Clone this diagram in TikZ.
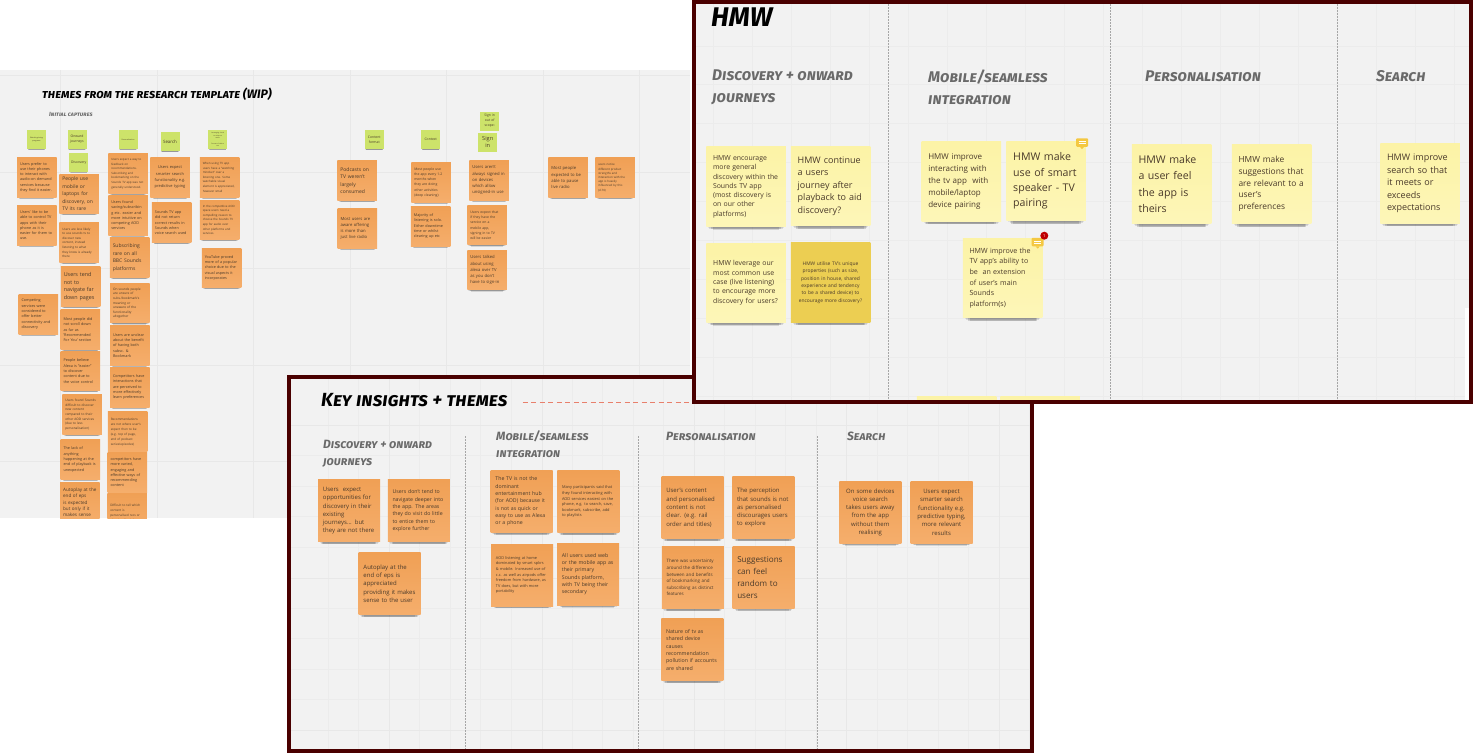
\documentclass[tikz,border=0pt]{standalone}
\usepackage{fontspec}
\setmainfont{Open Sans}
\newfontfamily\markerfont[Letters=SmallCaps]{Fira Sans}
\usepackage{tikz}
\usetikzlibrary{calc, shadows}
\definecolor{boardgray}{HTML}{F2F2F2}
\definecolor{gridmajor}{HTML}{E8E8E8}
\definecolor{gridminor}{HTML}{ECECEC}
\definecolor{framered}{HTML}{4A0000}
\definecolor{orangetop}{HTML}{F0A055}
\definecolor{orangebot}{HTML}{F5AE6C}
\definecolor{yellowtop}{HTML}{FCF3A6}
\definecolor{yellowbot}{HTML}{FDF6B8}
\definecolor{darkyellow}{HTML}{ECCE52}
\definecolor{limegreen}{HTML}{CDE36A}
\definecolor{notetext}{HTML}{4A3A2A}
\definecolor{headgray}{HTML}{6A6A6A}
\definecolor{salmon}{HTML}{E8806C}
\definecolor{iconyellow}{HTML}{F4C842}
\newcommand{\fs}[2]{\fontsize{#1}{#2}\selectfont}

\begin{document}
\begin{tikzpicture}[
    x=1pt, y=-1pt,
    board/.style={rectangle, fill=boardgray, inner sep=0pt},
    frameline/.style={draw=framered, line width=4pt},
    majorline/.style={gridmajor, line width=1pt},
    minorline/.style={gridminor, line width=0.6pt},
    divider/.style={gray!70, line width=0.8pt, dash pattern=on 1.5pt off 1.5pt},
    noteshadow/.style={
      general shadow={fill=black, opacity=0.07, shadow scale=0.95, shadow xshift=0pt, shadow yshift=-#1*0.025pt-#1*0.02pt},
      general shadow={fill=black, opacity=0.10, shadow scale=0.92, shadow xshift=0pt, shadow yshift=-#1*0.04pt-#1*0.035pt},
      general shadow={fill=black, opacity=0.14, shadow scale=0.88, shadow xshift=0pt, shadow yshift=-#1*0.06pt-#1*0.05pt},
      general shadow={fill=black, opacity=0.12, shadow scale=0.83, shadow xshift=0pt, shadow yshift=-#1*0.085pt-#1*0.065pt}},
    sticky/.style={rectangle, inner sep=0pt, align=left, text=notetext},
    tnote/.style={sticky, noteshadow=39.5, top color=orangetop, bottom color=orangebot, minimum size=39.5pt, text width=33.5pt, font=\fs{3.75}{5.3}},
    tsmall/.style={tnote, font=\fs{3.2}{4.6}},
    tbig/.style={tnote, font=\fs{5}{7.5}},
    green/.style={sticky, noteshadow=19, fill=limegreen, minimum size=19pt, align=center, text width=17pt, font=\fs{3.4}{5}},
    knote/.style={sticky, noteshadow=62, top color=orangetop, bottom color=orangebot, minimum size=62pt, text width=52.5pt, font=\fs{6}{8.3}},
    ksmall/.style={knote, font=\fs{3.9}{5.6}},
    hnote/.style={sticky, noteshadow=79.5, top color=yellowtop, bottom color=yellowbot, minimum size=79.5pt, text width=66pt, font=\fs{6.9}{9.3}},
    hmid/.style={hnote, font=\fs{8}{11.8}},
    hbig/.style={hnote, font=\fs{10.6}{15.4}},
    bighead/.style={anchor=west, inner sep=0pt, align=left, text=black, font=\markerfont\bfseries\itshape\fs{12}{14}},
    subhead/.style={anchor=west, inner sep=0pt, align=left, text=headgray, font=\markerfont\bfseries\itshape\fs{12}{17}},
    hmwhead/.style={subhead, font=\markerfont\bfseries\itshape\fs{15.5}{22}},
    comment/.style={rectangle, fill=iconyellow, rounded corners=1pt, minimum width=12pt, minimum height=8.5pt, inner sep=0pt}
]
    \fill[white] (0,0) rectangle (1473,753);
    \useasboundingbox (0,0) rectangle (1473,753);

    % --- Themes board ---
    \node[board, minimum width=690pt, minimum height=448pt] (themesboard) at (345,294) {};
    \foreach \gx in {60,157,253.5,350,446.5,543,639.5} \draw[majorline] (\gx,70) -- (\gx,518);
    \foreach \gy in {75.5,172,268.5,365,461.5} \draw[majorline] (0,\gy) -- (690,\gy);

    \node[bighead, font=\markerfont\bfseries\itshape\fs{12.3}{14}] (themestitle) at (42,94) {themes from the research template (WIP)};
    \node[subhead, font=\markerfont\bfseries\itshape\fs{6}{7}] (captures) at (49,114) {Initial captures};

    \begin{scope}
    \clip (0,70) rectangle (690,518);
    % column labels
    \node[green, font=\fs{1.8}{3}] (g1) at (36.5,139.5) {Watching/using\\programs};
    \node[green] (g2) at (77,139.5) {Onward\\journeys};
    \node[green] (g3) at (78.7,162.3) {Discovery};
    \node[green, font=\fs{1.8}{3}] (g4) at (128,139.5) {Personalisation};
    \node[green, font=\fs{4.4}{6}] (g5) at (170,141.8) {Search};
    \node[green, font=\fs{1.6}{2.6}] (g6) at (217.7,139.5) {Leveraging visual\\to enhance\\audio\\[2.6pt]Format of device\\use};
    \node[green] (g7) at (374.3,139.7) {Content\\format};
    \node[green] (g8) at (430.7,139.7) {Context};
    \node[green] (g9) at (489.7,121) {Sign in\\out of\\scope:};
    \node[green, font=\fs{5.6}{7.5}] (g10) at (487.7,142) {Sign\\in};

    % first columns
    \node[tnote] (t1) at (36.8,177.3) {Users prefer to\\use their phones\\to interact with\\audio-on demand\\services because\\they find it easier.};
    \node[tnote] (t2) at (36.8,225.3) {Users' like to be\\able to control TV\\apps with their\\phone as it is\\easier for them to\\use.};
    \node[tnote] (t3) at (38.3,314.3) {Competing\\services were\\considered to\\offer better\\connectivity and\\discovery};

    \node[tbig] (t4) at (79,194) {People use\\mobile or\\laptops for\\discovery, on\\TV its rare};
    \node[tsmall, font=\fs{3.05}{4.6}] (t5) at (79,242.7) {Users are less likely\\to use sounds tv to\\discover new\\content, instead\\listening to what\\they know is already\\there};
    \node[tbig, font=\fs{5.4}{7.6}] (t6) at (80.5,286.6) {Users tend\\not to\\navigate far\\down pages};
    \node[tnote] (t7) at (80.3,329.7) {Most people did\\not scroll down\\as far as\\'Recommended\\For You' section};
    \node[tnote] (t8) at (80.3,371) {People believe\\Alexa is "easier"\\to discover\\content due to\\the voice control};
    \node[tsmall] (t9) at (82,414.7) {Users found Sounds\\difficult to discover\\new content\\compared to their\\other AOD services\\(due to less\\personalisation)};
    \node[tnote] (t10) at (80.3,459.5) {The lack of\\anything\\happening at the\\end of playback is\\unexpected};
    \node[tbig, font=\fs{4.6}{6.4}] (t11) at (79.9,502.3) {Autoplay at the\\end of eps\\is expected\\but only if it\\makes sense};

    \node[tsmall, font=\fs{2.9}{4.6}] (t12) at (128,173.7) {Users expect a way to\\feedback on\\recommendations.\\Subscribing and\\bookmarking on the\\Sounds TV app was not\\generally understood.};
    \node[tnote] (t13) at (128,215.3) {Users found\\saving/subscribin\\g etc. easier and\\more intuitive on\\competing AOD\\services};
    \node[tbig] (t14) at (129.5,257.7) {Subscribing\\rare on all\\BBC Sounds\\platforms};
    \node[tsmall, font=\fs{3.2}{4.6}] (t15) at (129.8,303.2) {On sounds people\\are unsure of\\subs./bookmark's\\meaning or\\unaware of the\\functionality\\altogether};
    \node[tnote] (t16) at (129.8,345.3) {Users are unclear\\about the benefit\\of having both\\subsc. \&\\Bookmark};
    \node[tnote] (t17) at (129.8,387.3) {Competitors have\\interactions that\\are perceived to\\more effectively\\learn preferences};
    \node[tsmall, font=\fs{3.1}{5}] (t18) at (127.5,431.7) {Recommendations\\are not where user's\\expect then to be\\(e.g. top of page,\\end of podcast\\series/episodes)};
    \node[tnote] (t19) at (127.3,472.3) {competitors have\\more varied,\\engaging and\\effective ways of\\recommending\\content};
    \node[tsmall, font=\fs{3.1}{5}] (t20) at (127,513) {Difficult to tell which\\content is\\personalised recs or\\what is editorial};

    \node[tbig, align=center, font=\fs{3.95}{6.2}] (t21) at (170,177.3) {Users expect\\smarter search\\functionality e.g.\\predictive typing};
    \node[tnote] (t22) at (171.7,222.7) {Sounds TV app\\did not return\\correct results in\\Sounds when\\voice search used};
    \node[tsmall, font=\fs{2.9}{4.6}] (t23) at (219.5,177.3) {When using TV app\\users have a "watching\\mindset" over a\\listening one. Some\\watchable visual\\element is appreciated,\\however small};
    \node[tsmall, font=\fs{2.9}{4.6}] (t24) at (219.5,219.8) {In the competitive AOD\\space users need a\\compelling reason to\\choose the Sounds TV\\app for audio over\\other platforms and\\services.};
    \node[tnote] (t25) at (221.5,268) {YouTube proved\\more of a popular\\choice due to the\\visual aspects it\\incorporates};

    % second group of columns
    \node[tbig] (t26) at (357.2,180.7) {Podcasts on\\TV weren't\\largely\\consumed};
    \node[tnote, font=\fs{4.2}{6.2}] (t27) at (357.3,228.5) {Most users are\\aware offering\\is more than\\just live radio};
    \node[tsmall, font=\fs{3.4}{5.1}] (t28) at (431,182.5) {Most people use\\the app every 1-2\\months when\\they are doing\\other activities\\(deep cleaning)};
    \node[tnote] (t29) at (430.7,226.3) {Majority of\\listening is solo.\\Either downtime\\time or whilst\\clearing up etc};
    \node[tnote, font=\fs{4.2}{6.2}] (t30) at (489,180.3) {Users aren't\\always signed in\\on devices\\which allow\\unsigned-in use};
    \node[tsmall, font=\fs{3.4}{5.1}] (t31) at (487,225.2) {Users expect that\\if they have the\\service on a\\mobile app,\\signing in to TV\\will be easier};
    \node[tnote, font=\fs{4.2}{6.2}] (t32) at (487,270.2) {Users talked\\about using\\alexa over TV\\as you don't\\have to sign-in};
    \node[tnote, font=\fs{4.2}{6.2}] (t33) at (568.2,177.7) {Most people\\expected to be\\able to pause\\live radio};
    \node[tsmall, font=\fs{2.9}{4.2}] (t34) at (615,177.7) {users notice\\different product\\strengths and\\interaction with the\\app is heavily\\influenced by this\\(d.70)};
    \end{scope}

    % --- Key insights board ---
    \node[board, minimum width=743pt, minimum height=374pt] (keyboard) at (660.5,564) {};
    \foreach \gx in {328,358.5,419.5,450,480.5,511,572,602.5,633,663.5,724.5,755,785.5,816,877,907.5,938,968.5,1029.5} \draw[minorline] (\gx,377) -- (\gx,751);
    \foreach \gy in {455.5,486,516.5,547,608,638.5,669,699.5} \draw[minorline] (289,\gy) -- (1032,\gy);
    \foreach \gx in {389,542,694,846,999} \draw[majorline] (\gx,377) -- (\gx,751);
    \foreach \gy in {425,578,730} \draw[majorline] (289,\gy) -- (1032,\gy);

    \node[bighead, font=\markerfont\bfseries\itshape\fs{19}{21}] (keytitle) at (321,400) {Key insights + themes};
    \coordinate (dashend) at (692,402);
    \draw[salmon, line width=1pt, dash pattern=on 5pt off 3.5pt] (keytitle.east |- dashend) ++(15,0) -- (dashend);

    \node[subhead] (keydisc) at (323,453.5) {Discovery + onward\\journeys};
    \node[subhead] (keymob) at (496,444.5) {Mobile/seamless\\integration};
    \node[subhead] (keypers) at (666,436) {Personalisation};
    \node[subhead] (keysearch) at (847,436) {Search};

    \coordinate (kd1top) at (465,436);
    \coordinate (kd1bot) at (465,751);
    \coordinate (kd2top) at (638.3,436);
    \coordinate (kd2bot) at (638.3,751);
    \coordinate (kd3top) at (817.3,436);
    \coordinate (kd3bot) at (817.3,751);
    \draw[divider] (kd1top) -- (kd1bot);
    \draw[divider] (kd2top) -- (kd2bot);
    \draw[divider] (kd3top) -- (kd3bot);

    \node[knote] (k1) at (349.2,510.8) {Users\ \ expect\\opportunities for\\discovery in their\\existing\\journeys... but\\they are not there};
    \node[knote, font=\fs{5.2}{7.3}] (k2) at (418.8,510.8) {Users don't tend to\\navigate deeper into\\the app. The areas\\they do visit do little\\to entice them to\\explore further};
    \node[knote] (k3) at (389.7,583.7) {Autoplay at the\\end of eps is\\appreciated\\providing it makes\\sense to the user};
    \node[knote, font=\fs{5.2}{7.3}] (k4) at (521.7,501.5) {The TV is not the\\dominant\\entertainment hub\\(for AOD) because it\\is not as quick or\\easy to use as Alexa\\or a phone};
    \node[ksmall] (k5) at (588.3,501.8) {Many participants said that\\they found interacting with\\AOD services easiest on the\\phone, e.g. to search, save,\\bookmark, subscribe, add\\to playlists};
    \node[ksmall, font=\fs{3.85}{5.6}] (k6) at (522.2,575) {AOD listening at home\\dominated by smart spkrs\\\& mobile. Increased use of\\c.c. as well as airpods offer\\freedom from hardware, as\\TV does, but with more\\portability};
    \node[knote, font=\fs{5.2}{7.3}] (k7) at (588.2,574.2) {All users used web\\or the mobile app as\\their primary\\Sounds platform,\\with TV being their\\secondary};
    \node[knote] (k8) at (692.5,507.8) {User's content\\and personalised\\content is not\\clear. (e.g. rail\\order and titles)};
    \node[knote] (k9) at (763.3,507.8) {The perception\\that sounds is not\\as personalised\\discourages users\\to explore};
    \node[ksmall, font=\fs{4.5}{6.6}] (k10) at (692.8,577.7) {There was uncertainty\\around the difference\\between and benefits\\of bookmarking and\\subscribing as distinct\\features};
    \node[knote, font=\fs{8.1}{12}] (k11) at (763.5,577.3) {Suggestions\\can feel\\random to\\users};
    \node[knote, font=\fs{5.3}{7.4}] (k12) at (692.3,649.7) {Nature of tv as\\shared device\\causes\\recommendation\\pollution if accounts\\are shared};
    \node[knote, align=center] (k13) at (870.3,512.2) {On some devices\\voice search\\takes users away\\from the app\\without them\\realising};
    \node[knote, align=center] (k14) at (941.5,512.2) {Users expect\\smarter search\\functionality e.g.\\predictive typing,\\more relevant\\results};

    \draw[frameline] (keyboard.north west) rectangle (keyboard.south east);

    % --- HMW board ---
    \node[board, minimum width=777pt, minimum height=400pt] (hmwboard) at (1082.5,202) {};
    \foreach \gx in {713,752,791,830,869,908,947,986,1025,1064,1103,1142,1181,1220,1259,1298,1337,1376,1415,1454} \draw[minorline] (\gx,4) -- (\gx,400);
    \foreach \gy in {46,84,123,162,201,240,279,318,357,396} \draw[minorline] (696,\gy) -- (1469,\gy);

    \node[bighead, font=\markerfont\bfseries\itshape\fs{27}{29}] (hmwtitle) at (711,17) {HMW};
    \node[hmwhead] (hmwdisc) at (712,87) {Discovery + onward\\journeys};
    \node[hmwhead] (hmwmob) at (928,87) {Mobile/seamless\\integration};
    \node[hmwhead] (hmwpers) at (1145,76) {Personalisation};
    \node[hmwhead] (hmwsearch) at (1376,76) {Search};

    \coordinate (hd1top) at (888.7,4);
    \coordinate (hd1bot) at (888.7,400);
    \coordinate (hd2top) at (1110.3,4);
    \coordinate (hd2bot) at (1110.3,400);
    \coordinate (hd3top) at (1337.7,4);
    \coordinate (hd3bot) at (1337.7,400);
    \draw[divider] (hd1top) -- (hd1bot);
    \draw[divider] (hd2top) -- (hd2bot);
    \draw[divider] (hd3top) -- (hd3bot);

    \node[hnote] (h1) at (746,186.7) {HMW encourage\\more general\\discovery within the\\Sounds TV app\\(most discovery is\\on our other\\platforms)};
    \node[hmid, font=\fs{9}{12.6}] (h2) at (830.7,186) {HMW continue\\a users\\journey after\\playback to aid\\discovery?};
    \node[hnote] (h3) at (746.2,282.8) {HMW leverage our\\most common use\\case (live listening)\\to encourage more\\discovery for users?};
    \node[hnote, top color=darkyellow, bottom color=darkyellow, align=center, font=\fs{4.9}{7.3}] (h4) at (830.5,282.5) {HMW utilise TV's unique\\properties (such as size,\\position in house, shared\\experience and tendency\\to be a shared device) to\\encourage more discovery?};
    \node[hmid] (h5) at (961.3,181.5) {HMW improve\\interacting with\\the tv app\ \ with\\mobile/laptop\\device pairing};
    \node[hbig] (h6) at (1046.2,181) {HMW make\\use of smart\\speaker - TV\\pairing};
    \node[hnote, font=\fs{7.1}{10.6}] (h7) at (1002.5,278) {HMW improve the\\TV app's ability to\\be\ \ an extension\\of user's main\\Sounds\\platform(s)};
    \node[hbig, font=\fs{10.6}{16.5}] (h8) at (1171.5,184.2) {HMW make\\a user feel\\the app is\\theirs};
    \node[hmid, font=\fs{8.4}{11.8}] (h9) at (1271.5,184) {HMW make\\suggestions that\\are relevant to a\\user's\\preferences};
    \node[hmid, font=\fs{9}{12.6}] (h10) at (1420,183.5) {HMW improve\\search so that\\it meets or\\exceeds\\expectations};

    % stickies cut off by the frame
    \begin{scope}
    \clip (696,4) rectangle (1469,400);
    \node[hnote] (h11) at (956.5,436) {};
    \node[hnote] (h12) at (1040,436) {};
    \end{scope}

    % comment markers
    \node[comment] (cmt1) at (1082,142.5) {};
    \fill[iconyellow] ($(cmt1.south)+(-2,0)$) -- ($(cmt1.south)+(2,0)$) -- ($(cmt1.south)+(0,2.2)$) -- cycle;
    \draw[white, line width=0.7pt] ($(cmt1.center)+(-3.5,-1)$) -- ($(cmt1.center)+(3.5,-1)$);
    \draw[white, line width=0.7pt] ($(cmt1.center)+(-3.5,1)$) -- ($(cmt1.center)+(3.5,1)$);
    \node[comment] (cmt2) at (1037.7,242) {};
    \fill[iconyellow] ($(cmt2.south)+(-2,0)$) -- ($(cmt2.south)+(2,0)$) -- ($(cmt2.south)+(0,2.2)$) -- cycle;
    \draw[white, line width=0.7pt] ($(cmt2.center)+(-3.5,-1)$) -- ($(cmt2.center)+(3.5,-1)$);
    \draw[white, line width=0.7pt] ($(cmt2.center)+(-3.5,1)$) -- ($(cmt2.center)+(3.5,1)$);
    \node[circle, fill=red!75!black, minimum size=8pt, inner sep=0pt, text=white, font=\fs{4}{4}] (badge) at (1044.3,235.7) {1};

    % white panel at the right edge
    \node[rectangle, fill=white, minimum width=4pt, minimum height=92pt, inner sep=0pt] (sidepanel) at (1467,354) {};

    \draw[frameline] (hmwboard.north west) rectangle (hmwboard.south east);

\end{tikzpicture}
\end{document}
